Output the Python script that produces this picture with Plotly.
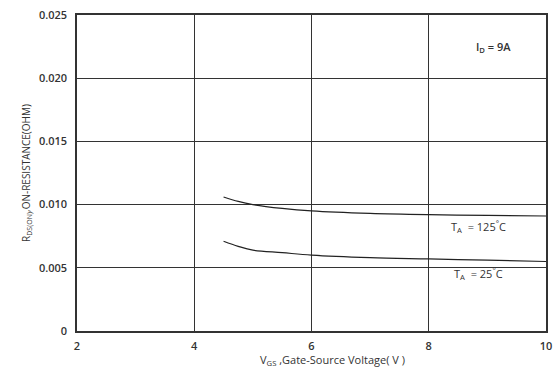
import plotly.graph_objects as go

vgs_125 = [4.5, 4.75, 5.0, 5.5, 6.0, 7.0, 8.0, 9.0, 10.0]
r_125 = [0.0106, 0.01025, 0.0100, 0.0097, 0.0095, 0.0093, 0.0092, 0.00915, 0.0091]
vgs_25 = [4.5, 4.75, 5.0, 5.5, 6.0, 7.0, 8.0, 9.0, 10.0]
r_25 = [0.0071, 0.0067, 0.0064, 0.0062, 0.0060, 0.0058, 0.0057, 0.0056, 0.0055]

x_ticks = [2, 4, 6, 8, 10]
y_ticks = [0, 0.005, 0.010, 0.015, 0.020, 0.025]
y_labels = ["0", "0.005", "0.010", "0.015", "0.020", "0.025"]

FONT = "Open Sans"
fig = go.Figure()
fig.add_trace(go.Scatter(x=vgs_125, y=r_125, mode="lines", line=dict(color="#222", width=1.2, shape="spline", smoothing=1.0), showlegend=False))
fig.add_trace(go.Scatter(x=vgs_25, y=r_25, mode="lines", line=dict(color="#222", width=1.2, shape="spline", smoothing=1.0), showlegend=False))

fig.update_layout(
    width=559, height=372,
    margin=dict(l=77, r=7, t=8, b=41),
    paper_bgcolor="white", plot_bgcolor="white",
    font=dict(family=FONT, color="#404040", size=11),
    xaxis=dict(range=[2, 10], tickvals=x_ticks, showgrid=True, gridcolor="#333", gridwidth=1.3,
               showline=True, linecolor="#333", linewidth=1.5, mirror=True, zeroline=False,
               ticks="", ticklabelstandoff=4, tickfont=dict(size=11, family=FONT, color="#333", weight=600)),
    yaxis=dict(range=[0, 0.025], tickvals=y_ticks, ticktext=y_labels, showgrid=True, gridcolor="#333", gridwidth=1.3,
               showline=True, linecolor="#333", linewidth=1.5, mirror=True, zeroline=False,
               ticks="", ticklabelstandoff=6, tickfont=dict(size=11, family=FONT, color="#333", weight=600),
               title=dict(text="R<sub>DS(ON)</sub>,ON-RESISTANCE(OHM)", font=dict(size=10, color="#333"), standoff=6)),
    annotations=[
        dict(x=0.545, y=-0.092, xref="paper", yref="paper", yanchor="middle", xanchor="center",
             text="V<sub>GS</sub> ,Gate-Source Voltage( V )", showarrow=False, font=dict(size=11, color="#333")),
        dict(x=9.1, y=0.0225, text="I<sub>D</sub> = 9A", showarrow=False, font=dict(size=11, color="#333", weight=600)),
        dict(x=8.85, y=0.0083, text="T<sub>A</sub>  = 125<sup>°</sup>C", showarrow=False, font=dict(size=11, color="#333")),
        dict(x=8.85, y=0.00455, text="T<sub>A</sub>  = 25<sup>°</sup>C", showarrow=False, font=dict(size=11, color="#333")),
    ],
)
fig.write_html("out.html")
